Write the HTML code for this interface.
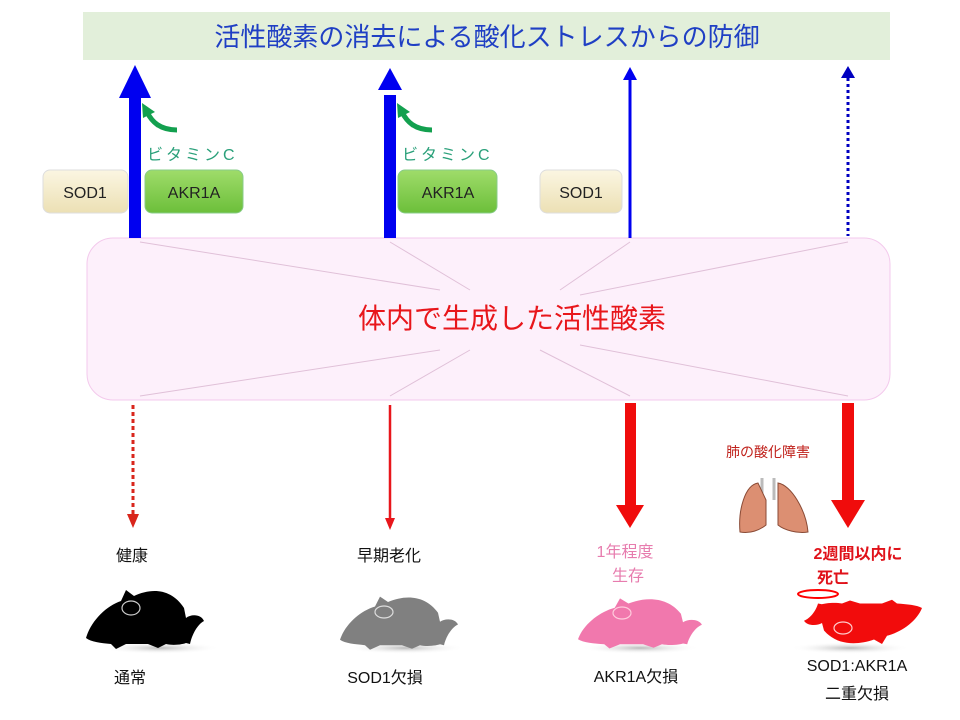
<!DOCTYPE html>
<html><head><meta charset="utf-8"><style>
html,body{margin:0;padding:0;background:#fff;width:960px;height:720px;overflow:hidden}
svg{display:block}
text{font-family:"Liberation Sans","Noto Sans CJK JP",sans-serif}
</style></head><body>
<svg width="960" height="720" viewBox="0 0 960 720" xmlns="http://www.w3.org/2000/svg">
<defs>
<linearGradient id="sod" x1="0" y1="0" x2="0" y2="1"><stop offset="0" stop-color="#fbf6e2"/><stop offset="1" stop-color="#ece0b4"/></linearGradient>
<linearGradient id="akr" x1="0" y1="0" x2="0" y2="1"><stop offset="0" stop-color="#9fdc6a"/><stop offset="1" stop-color="#6cbf3a"/></linearGradient>
<radialGradient id="sh" cx="0.5" cy="0.5" r="0.5"><stop offset="0" stop-color="#bbb"/><stop offset="1" stop-color="#fff" stop-opacity="0"/></radialGradient>
<path id="mouse" d="M0,52 C5,35 20,20 35,15 L40,4 L48,10 C65,2 85,2 98,22 L100,32 C105,28 115,28 118,35 C112,38 106,48 104,58 L100,57 C98,58 88,60 80,58 L72,62 L62,58 L40,58 L30,63 L25,58 C15,57 5,56 0,52 Z"/>
</defs>
<rect x="83" y="12" width="807" height="48" fill="#e2efda"/>
<text x="487" y="46" font-size="26" fill="#1f3fc4" text-anchor="middle">活性酸素の消去による酸化ストレスからの防御</text>

<rect x="87" y="238" width="803" height="162" rx="26" fill="#fdf0fb" stroke="#f3c9ec" stroke-width="1"/>
<g stroke="#e0c0d8" stroke-width="1">
<line x1="140" y1="242" x2="440" y2="290"/><line x1="390" y1="242" x2="470" y2="290"/><line x1="630" y1="242" x2="560" y2="290"/><line x1="848" y1="242" x2="580" y2="295"/>
<line x1="140" y1="396" x2="440" y2="350"/><line x1="390" y1="396" x2="470" y2="350"/><line x1="630" y1="396" x2="540" y2="350"/><line x1="848" y1="396" x2="580" y2="345"/>
</g>
<text x="512" y="328" font-size="28" fill="#e8161b" text-anchor="middle">体内で生成した活性酸素</text>

<!-- up arrows -->
<rect x="129" y="95" width="12" height="143" fill="#0000f0"/>
<polygon points="135,65 119,98 151,98" fill="#0000f0"/>
<rect x="384" y="95" width="12" height="143" fill="#0000f0"/>
<polygon points="390,68 378,90 402,90" fill="#0000f0"/>
<line x1="630" y1="80" x2="630" y2="238" stroke="#0000f0" stroke-width="3"/>
<polygon points="630,67 623,80 637,80" fill="#0000f0"/>
<line x1="848" y1="78" x2="848" y2="236" stroke="#0000c0" stroke-width="3" stroke-dasharray="3,3"/>
<polygon points="848,66 841,78 855,78" fill="#0000c0"/>

<!-- green curved arrows -->
<g fill="none" stroke="#13a04f" stroke-width="5">
<path d="M177,130 C160,130 152,122 147,112"/><path d="M432,130 C415,130 407,122 402,112"/>
</g>
<polygon points="142,103 143,118 155,112" fill="#13a04f"/>
<polygon points="397,103 398,118 410,112" fill="#13a04f"/>
<text x="147" y="160" font-size="16" fill="#2aa07a" letter-spacing="3">ビタミンC</text>
<text x="402" y="160" font-size="16" fill="#2aa07a" letter-spacing="3">ビタミンC</text>

<g font-size="16" text-anchor="middle" fill="#222">
<rect x="43" y="170" width="85" height="43" rx="7" fill="url(#sod)" stroke="#ddd"/><text x="85" y="198">SOD1</text>
<rect x="145" y="170" width="98" height="43" rx="7" fill="url(#akr)" stroke="#8c8"/><text x="194" y="198">AKR1A</text>
<rect x="398" y="170" width="99" height="43" rx="7" fill="url(#akr)" stroke="#8c8"/><text x="448" y="198">AKR1A</text>
<rect x="540" y="170" width="82" height="43" rx="7" fill="url(#sod)" stroke="#ddd"/><text x="581" y="198">SOD1</text>
</g>

<!-- down arrows -->
<line x1="133" y1="405" x2="133" y2="515" stroke="#d9261c" stroke-width="3" stroke-dasharray="4,3"/>
<polygon points="133,528 127,514 139,514" fill="#d9261c"/>
<line x1="390" y1="405" x2="390" y2="520" stroke="#e8161b" stroke-width="2.5"/>
<polygon points="390,530 385,518 395,518" fill="#e8161b"/>
<rect x="625" y="403" width="11" height="103" fill="#f00c0c"/>
<polygon points="630,528 616,505 644,505" fill="#f00c0c"/>
<rect x="842" y="403" width="12" height="100" fill="#f00c0c"/>
<polygon points="848,528 831,500 865,500" fill="#f00c0c"/>

<!-- lungs -->
<text x="768" y="457" font-size="14" fill="#c0221c" text-anchor="middle">肺の酸化障害</text>
<g stroke="#8a4a35" stroke-width="1">
<path d="M762,478 L762,500 M774,478 L774,500" stroke="#bbb" stroke-width="3"/>
<path d="M758,483 C745,485 738,510 740,532 C750,534 760,530 766,525 L766,500 Z" fill="#dc8f72"/>
<path d="M778,483 C791,485 806,510 808,532 C798,534 784,530 778,525 L778,500 Z" fill="#dc8f72"/>
</g>

<!-- labels -->
<g font-size="16" text-anchor="middle" fill="#111">
<text x="132" y="561">健康</text>
<text x="389" y="561">早期老化</text>
<text x="130" y="683">通常</text>
<text x="385" y="683">SOD1欠損</text>
<text x="636" y="682">AKR1A欠損</text>
<text x="857" y="671">SOD1:AKR1A</text>
<text x="857" y="699">二重欠損</text>
</g>
<g font-size="16" text-anchor="middle" fill="#e77cae">
<text x="625" y="557">1年程度</text><text x="628" y="581">生存</text>
</g>
<g font-size="16" text-anchor="middle" fill="#e0121a" font-weight="bold">
<text x="858" y="559">2週間以内に</text><text x="833" y="583">死亡</text>
</g>

<!-- mice -->
<ellipse cx="160" cy="648" rx="60" ry="6" fill="url(#sh)"/>
<use href="#mouse" transform="translate(86,586)" fill="#000"/>
<ellipse cx="131" cy="608" rx="9" ry="7" fill="none" stroke="#ccc" stroke-width="1.2"/>
<ellipse cx="405" cy="648" rx="60" ry="6" fill="url(#sh)"/>
<use href="#mouse" transform="translate(340,593) scale(1,0.9)" fill="#808080"/>
<ellipse cx="384" cy="612" rx="9" ry="6" fill="none" stroke="#ddd" stroke-width="1.2"/>
<ellipse cx="640" cy="648" rx="60" ry="6" fill="url(#sh)"/>
<use href="#mouse" transform="translate(578,595) scale(1.05,0.85)" fill="#f178ad"/>
<ellipse cx="622" cy="613" rx="9" ry="6" fill="none" stroke="#fcd" stroke-width="1.2"/>
<ellipse cx="850" cy="648" rx="60" ry="6" fill="url(#sh)"/>
<g transform="translate(922,647) scale(-1,-0.75)"><use href="#mouse" fill="#f20c0c"/></g>
<ellipse cx="843" cy="628" rx="9" ry="6" fill="none" stroke="#fcc" stroke-width="1.2"/>
<ellipse cx="818" cy="594" rx="20" ry="4" fill="none" stroke="#f00" stroke-width="2"/>
</svg>
</body></html>
